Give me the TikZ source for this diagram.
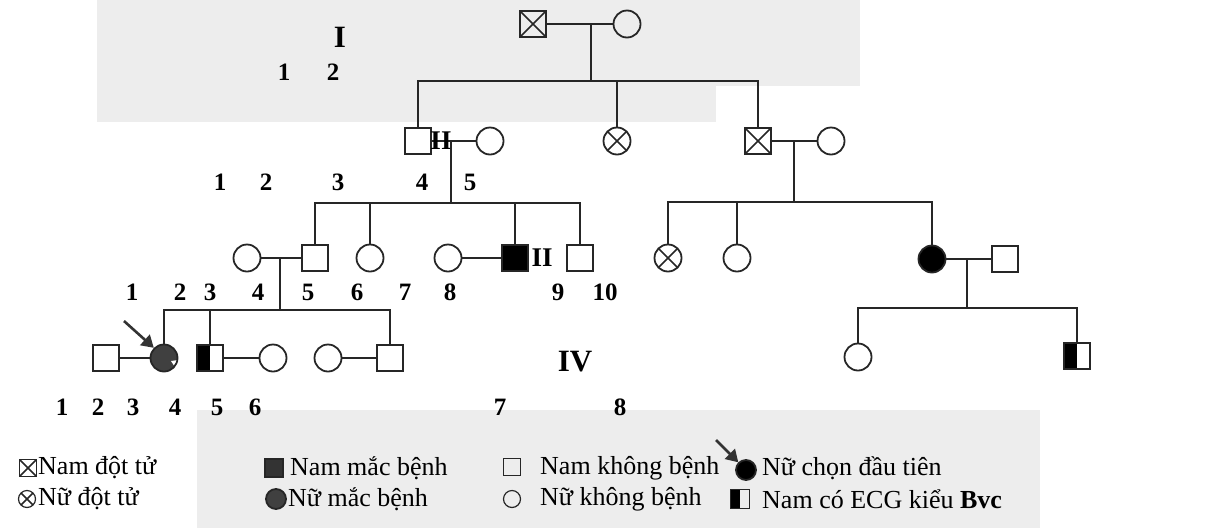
\documentclass[tikz,border=0pt]{standalone}
\usepackage{fontspec}
\setmainfont{Liberation Serif}
\usetikzlibrary{arrows.meta}
\begin{document}
\begin{tikzpicture}[x=1pt,y=-1pt,
  ln/.style={line width=1.4pt, draw=black!85},
  sym/.style={draw=black!85, line width=1.8pt, inner sep=0pt},
  male/.style={sym, rectangle, minimum size=26pt},
  female/.style={sym, circle, minimum size=27pt},
  crossed/.style={path picture={\draw[line width=1.6pt, black!85]
      (path picture bounding box.north west) -- (path picture bounding box.south east)
      (path picture bounding box.north east) -- (path picture bounding box.south west);}},
  halfleft/.style={path picture={\fill[black]
      (path picture bounding box.south west) rectangle (path picture bounding box.north);}},
  notched/.style={path picture={\fill[white]
      ([shift={(7pt,-3pt)}]path picture bounding box.center) -- ++(7pt,1pt) -- ++(-3pt,-7pt) -- cycle;}},
  lab/.style={font=\fontsize{25}{25}\selectfont\bfseries, inner sep=0pt},
  gen/.style={font=\fontsize{31}{31}\selectfont\bfseries, inner sep=0pt},
  leg/.style={font=\fontsize{26}{26}\selectfont, inner sep=0pt, anchor=west},
  pointer/.style={line width=2.6pt, black!80, -{Triangle[length=12pt,width=14pt]}}
]
\useasboundingbox (0,0) rectangle (1217,528);
% faint grey patches of the printed page
\fill[black!7] (97,0) rectangle (860,86);
\fill[black!7] (97,86) rectangle (716,122);
\fill[black!7] (197,410) rectangle (1040,528);

% ---------------- generation I
\node[male, crossed] (I1) at (533,24) {};
\node[female] (I2) at (627,24) {};
\node[gen] (gI) at (340,37) {I};
\node[lab] (gI1) at (284,72) {1};
\node[lab] (gI2) at (333,72) {2};
\draw[ln] (I1) -- (I2);
\coordinate (mI) at (591,24);
\coordinate (sI) at (591,81);
\draw[ln] (mI) -- (sI);

% ---------------- generation II
\node[male] (II4) at (418,141) {};
\node[female] (II5) at (490,141) {};
\node[female, crossed] (II6) at (617,141) {};
\node[male, crossed] (II7) at (758,141) {};
\node[female] (II8) at (831,141) {};
\draw[ln] (II4.north) |- (sI) -| (II7.north);
\draw[ln] (II6.north) -- (II6.north |- sI);
\draw[ln] (II4) -- (II5);
\draw[ln] (II7) -- (II8);
\node[gen, font=\fontsize{27}{27}\selectfont\bfseries] (gII) at (441,141) {II};
\foreach \n/\x in {1/220,2/266,3/338,4/422,5/470}
  \node[lab] (lII\n) at (\x,182) {\n};

% ---------------- generation III
\coordinate (mII) at (451,141);
\coordinate (sII) at (451,203);
\draw[ln] (mII) -- (sII);
\node[female] (III4) at (247,258) {};
\node[male] (III5) at (315,258) {};
\node[female] (III6) at (370,258) {};
\node[female] (III7) at (448,258) {};
\node[male, fill=black] (III8) at (515,258) {};
\node[gen, font=\fontsize{27}{27}\selectfont\bfseries] (gIII) at (542,258) {II};
\node[male] (III10) at (580,258) {};
\draw[ln] (III5.north) |- (sII) -| (III10.north);
\draw[ln] (III6.north) -- (III6.north |- sII);
\draw[ln] (III8.north) -- (III8.north |- sII);
\draw[ln] (III4) -- (III5);
\draw[ln] (III7) -- (III8);

\coordinate (mII7) at (794,141);
\coordinate (sII7) at (794,202);
\draw[ln] (mII7) -- (sII7);
\node[female, crossed] (IIIa) at (668,258) {};
\node[female] (IIIb) at (737,258) {};
\node[female, fill=black] (IIIc) at (932,259) {};
\node[male] (IIId) at (1005,259) {};
\draw[ln] (IIIa.north) |- (sII7) -| (IIIc.north);
\draw[ln] (IIIb.north) -- (IIIb.north |- sII7);
\draw[ln] (IIIc) -- (IIId);
\foreach \n/\x in {1/132,2/180,3/210,4/258,5/308,6/357,7/405,8/450,9/558,10/605}
  \node[lab] (lIII\n) at (\x,292) {\n};

% ---------------- generation IV
\coordinate (mIII) at (280,258);
\coordinate (sIII) at (280,310);
\draw[ln] (mIII) -- (sIII);
\node[male] (IV3) at (106,358) {};
\node[female, fill=black!75, notched] (IV4) at (164,358) {};
\node[male, halfleft] (IV5) at (210,358) {};
\node[female] (IV6) at (273,358) {};
\node[female] (IV7) at (328,358) {};
\node[male] (IV8) at (390,358) {};
\draw[ln] (IV4.north) |- (sIII) -| (IV8.north);
\draw[ln] (IV5.north) -- (IV5.north |- sIII);
\draw[ln] (IV3) -- (IV4);
\draw[ln] (IV5) -- (IV6);
\draw[ln] (IV7) -- (IV8);
\coordinate (pIV) at (124,321);
\draw[pointer] (pIV) -- (IV4.north west);

\coordinate (mIIIc) at (967,259);
\coordinate (sIIIc) at (967,308);
\draw[ln] (mIIIc) -- (sIIIc);
\node[female] (IVa) at (858,357) {};
\node[male, halfleft] (IVb) at (1077,356) {};
\draw[ln] (IVa.north) |- (sIIIc) -| (IVb.north);

\node[gen] (gIV) at (575,362) {IV};
\foreach \n/\x in {1/62,2/98,3/133,4/175,5/217,6/255,7/500,8/620}
  \node[lab] (lIV\n) at (\x,407) {\n};

% ---------------- legend
\node[male, crossed, minimum size=17pt, line width=1.2pt] (k1) at (28,468) {};
\node[leg] (t1) at (38,468) {Nam đột tử};
\node[male, fill=black!80, minimum size=18pt] (k2) at (274,468) {};
\node[leg] (t2) at (290,468) {Nam mắc bệnh};
\node[male, minimum size=17pt, line width=1.2pt] (k3) at (512,467) {};
\node[leg] (t3) at (540,468) {Nam không bệnh};
\node[female, fill=black, minimum size=20pt] (k4) at (746,470) {};
\node[leg] (t4) at (762,468) {Nữ chọn đầu tiên};
\coordinate (pk) at (716,440);
\draw[pointer] (pk) -- (k4.north west);

\node[female, crossed, minimum size=17pt, line width=1.2pt] (k5) at (27,499) {};
\node[leg] (t5) at (38,499) {Nữ đột tử};
\node[female, fill=black!75, minimum size=20pt] (k6) at (276,499) {};
\node[leg] (t6) at (288,499) {Nữ mắc bệnh};
\node[female, minimum size=17pt, line width=1.2pt] (k7) at (512,499) {};
\node[leg] (t7) at (540,499) {Nữ không bệnh};
\node[male, halfleft, minimum size=19pt] (k8) at (740,499) {};
\node[leg] (t8) at (762,499) {Nam có ECG kiểu \textbf{Bvc}};
\end{tikzpicture}
\end{document}
